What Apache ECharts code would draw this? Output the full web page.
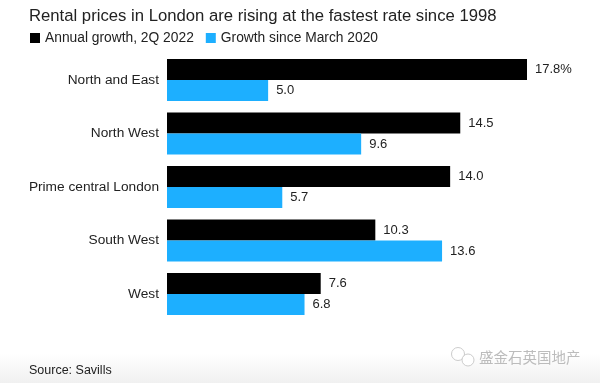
<!DOCTYPE html>
<html>
<head>
<meta charset="utf-8">
<style>
  html, body { margin: 0; padding: 0; background: #fff; }
  #chart { width: 600px; height: 383px; }
</style>
<script src="https://cdn.jsdelivr.net/npm/echarts@6/dist/echarts.min.js"></script>
</head>
<body>
<div id="chart"></div>
<script>
const categories = ["North and East", "North West", "Prime central London", "South West", "West"];
const annualGrowth = [17.8, 14.5, 14.0, 10.3, 7.6];
const sinceMarch = [5.0, 9.6, 5.7, 13.6, 6.8];
const seriesNames = ["Annual growth, 2Q 2022", "Growth since March 2020"];

const font = "'Liberation Sans', Arial, sans-serif";
const chart = echarts.init(document.getElementById("chart"));

function valueLabel(params) {
  const text = params.value.toFixed(1);
  // only the top bar carries the unit
  return params.seriesIndex === 0 && params.dataIndex === 0 ? text + "%" : text;
}

const barLabel = {
  show: true,
  position: "right",
  distance: 8,
  color: "#222",
  fontFamily: font,
  fontSize: 13,
  formatter: valueLabel,
};

chart.setOption({
  animation: false,
  backgroundColor: "transparent",
  textStyle: { fontFamily: font },
  title: {
    text: "Rental prices in London are rising at the fastest rate since 1998",
    left: 24,
    top: 3,
    textStyle: { color: "#222", fontFamily: font, fontSize: 16.7, fontWeight: "normal" },
  },
  legend: {
    left: 25,
    top: 26,
    icon: "rect",
    itemWidth: 10,
    itemHeight: 10,
    itemGap: 12,
    textStyle: { color: "#222", fontFamily: font, fontSize: 13.8 },
    data: seriesNames,
  },
  grid: { left: 167, top: 53.25, width: 404.5, height: 267.5 },
  xAxis: { type: "value", min: 0, max: 20, show: false },
  yAxis: {
    type: "category",
    inverse: true,
    data: categories,
    axisLine: { show: false },
    axisTick: { show: false },
    axisLabel: { color: "#222", fontFamily: font, fontSize: 13.7, margin: 8 },
  },
  series: [
    {
      name: seriesNames[0],
      type: "bar",
      data: annualGrowth,
      barWidth: 21,
      barGap: 0,
      itemStyle: { color: "#000" },
      label: barLabel,
    },
    {
      name: seriesNames[1],
      type: "bar",
      data: sinceMarch,
      barWidth: 21,
      itemStyle: { color: "#1dafff" },
      label: barLabel,
    },
  ],
  graphic: [
    {
      type: "rect",
      z: -10,
      shape: { x: 0, y: 353, width: 600, height: 30 },
      style: {
        fill: new echarts.graphic.LinearGradient(0, 0, 0, 1, [
          { offset: 0, color: "#ffffff" },
          { offset: 1, color: "#f0f0f0" },
        ]),
      },
    },
    {
      type: "text",
      left: 29,
      top: 364,
      style: { text: "Source: Savills", fill: "#222", font: "12.5px " + font },
    },
    // watermark: two chat bubbles and the account name
    {
      type: "circle",
      shape: { cx: 458, cy: 354, r: 6.5 },
      style: { fill: "#fff", stroke: "#cccccc", lineWidth: 1 },
    },
    {
      type: "circle",
      shape: { cx: 468, cy: 360, r: 6 },
      style: { fill: "#fff", stroke: "#cccccc", lineWidth: 1 },
    },
    {
      type: "text",
      left: 479,
      top: 350,
      style: {
        text: "盛金石英国地产",
        fill: "#bcbcbc",
        font: "14.5px 'Noto Sans CJK SC'",
      },
    },
  ],
});
</script>
</body>
</html>
